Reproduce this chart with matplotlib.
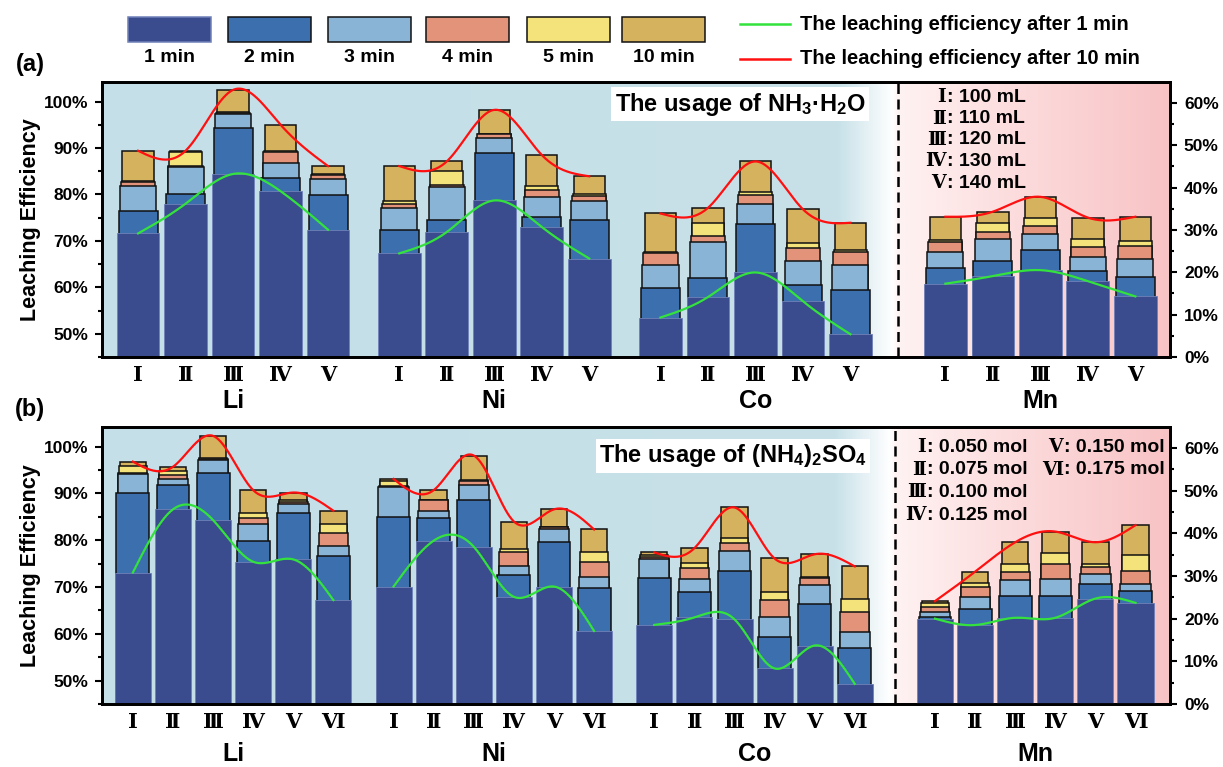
import numpy as np
import matplotlib
matplotlib.use('Agg')
import matplotlib.pyplot as plt
from matplotlib.patches import Rectangle
from matplotlib.lines import Line2D
from matplotlib.ticker import MultipleLocator, FixedLocator
import matplotlib.colors as mcolors

plt.rcParams['font.family'] = ['Liberation Sans', 'DejaVu Sans']
plt.rcParams['font.weight'] = 'bold'
plt.rcParams['mathtext.fontset'] = 'custom'
plt.rcParams['mathtext.rm'] = 'Liberation Sans:bold'
plt.rcParams['mathtext.it'] = 'Liberation Sans:bold'
plt.rcParams['mathtext.bf'] = 'Liberation Sans:bold'

# ---- data (rows: 1, 2, 3, 4, 5, 10 min; columns: conditions) ----
times = ['1 min', '2 min', '3 min', '4 min', '5 min', '10 min']
elements = ['Li', 'Ni', 'Co', 'Mn']
roman_a = ['Ⅰ', 'Ⅱ', 'Ⅲ', 'Ⅳ', 'Ⅴ']
roman_b = ['Ⅰ', 'Ⅱ', 'Ⅲ', 'Ⅳ', 'Ⅴ', 'Ⅵ']

# (a) NH3.H2O usage
li_a = [[71.6, 78.0, 84.4, 80.7, 72.4],
        [76.4, 80.0, 94.4, 83.6, 79.8],
        [81.9, 85.9, 97.3, 86.8, 83.4],
        [82.6, 86.2, 97.6, 89.2, 84.1],
        [82.9, 89.1, 97.8, 89.3, 84.3],
        [89.4, 89.4, 102.5, 95.0, 86.1]]
ni_a = [[67.3, 71.9, 78.7, 73.0, 66.2],
        [72.4, 74.4, 88.9, 75.1, 74.6],
        [77.1, 81.6, 92.1, 79.4, 78.6],
        [78.0, 82.1, 93.0, 81.0, 79.7],
        [78.6, 85.1, 93.1, 81.9, 80.1],
        [86.1, 87.1, 98.2, 88.5, 83.9]]
co_a = [[53.5, 57.9, 63.2, 57.0, 49.9],
        [59.8, 62.1, 73.6, 60.4, 59.4],
        [64.9, 69.8, 78.0, 65.7, 64.8],
        [67.4, 71.0, 79.8, 68.4, 67.6],
        [67.5, 73.9, 80.5, 69.6, 68.0],
        [75.9, 77.1, 87.1, 76.8, 73.9]]
mn_a = [[17.3, 19.1, 20.5, 17.9, 14.3],
        [21.0, 22.6, 25.2, 20.3, 18.9],
        [24.8, 27.8, 29.1, 23.6, 23.2],
        [27.2, 29.4, 30.9, 26.0, 26.2],
        [27.7, 31.7, 32.9, 27.8, 27.3],
        [33.1, 34.3, 37.8, 32.9, 33.1]]

# (b) (NH4)2SO4 usage
li_b = [[73.1, 86.6, 84.3, 75.4, 75.9, 67.2],
        [90.0, 91.8, 94.3, 79.9, 85.8, 76.6],
        [94.2, 93.0, 97.2, 83.5, 87.7, 78.8],
        [94.3, 93.9, 97.4, 84.8, 88.2, 81.6],
        [95.9, 94.9, 97.6, 85.8, 88.6, 83.4],
        [96.8, 95.7, 102.3, 90.7, 90.2, 86.3]]
ni_b = [[70.1, 79.9, 78.6, 67.9, 70.1, 60.6],
        [85.0, 84.8, 88.6, 72.6, 79.6, 69.7],
        [91.3, 86.3, 91.8, 74.4, 82.5, 72.2],
        [91.5, 88.5, 92.7, 77.4, 82.8, 75.4],
        [92.7, 88.7, 92.9, 78.1, 82.9, 77.4],
        [93.1, 90.7, 98.1, 84.0, 86.6, 82.3]]
co_b = [[61.9, 63.5, 63.1, 52.6, 57.5, 49.3],
        [72.0, 69.0, 73.4, 59.4, 66.4, 56.9],
        [76.0, 71.7, 77.8, 63.5, 70.4, 60.3],
        [76.4, 74.0, 79.5, 67.2, 71.9, 64.6],
        [76.9, 75.1, 80.4, 68.9, 72.1, 67.5],
        [77.4, 78.3, 87.0, 76.1, 77.0, 74.4]]
mn_b = [[20.0, 18.5, 20.2, 20.2, 24.7, 23.7],
        [20.3, 22.3, 25.3, 25.3, 28.0, 26.5],
        [21.5, 25.1, 29.1, 29.4, 30.4, 28.0],
        [22.8, 27.4, 31.0, 32.8, 32.1, 31.2],
        [23.6, 28.4, 32.9, 35.3, 32.9, 34.9],
        [24.1, 31.0, 37.9, 40.4, 37.9, 41.9]]

notes_a = [('Ⅰ', '100 mL'), ('Ⅱ', '110 mL'), ('Ⅲ', '120 mL'),
           ('Ⅳ', '130 mL'), ('Ⅴ', '140 mL')]
notes_b = [('Ⅰ', '0.050 mol'), ('Ⅱ', '0.075 mol'), ('Ⅲ', '0.100 mol'),
           ('Ⅳ', '0.125 mol'), ('Ⅴ', '0.150 mol'), ('Ⅵ', '0.175 mol')]

colors = ['#3a4b8e', '#3c6fae', '#8ab4d6', '#e2937a', '#f4e27a', '#d5b25e']
widths = [0.90, 0.82, 0.76, 0.72, 0.69, 0.66]
roman_font = ['DejaVu Serif', 'Noto Sans CJK JP']

W, H = 1223, 767


def px(x, y):
    return x / W, 1 - y / H


def smooth(x, y, n=200):
    # natural cubic spline through the points, for the curved guide lines
    x = np.asarray(x, float)
    y = np.asarray(y, float)
    k = len(x)
    h = np.diff(x)
    A = np.zeros((k, k))
    r = np.zeros(k)
    A[0, 0] = A[-1, -1] = 1
    for i in range(1, k - 1):
        A[i, i - 1] = h[i - 1]
        A[i, i] = 2 * (h[i - 1] + h[i])
        A[i, i + 1] = h[i]
        r[i] = 6 * ((y[i + 1] - y[i]) / h[i] - (y[i] - y[i - 1]) / h[i - 1])
    M = np.linalg.solve(A, r)
    xs = np.linspace(x[0], x[-1], n)
    idx = np.clip(np.searchsorted(x, xs) - 1, 0, k - 2)
    x0, x1 = x[idx], x[idx + 1]
    hh = x1 - x0
    t0, t1 = xs - x0, x1 - xs
    ys = ((M[idx] * t1 ** 3 + M[idx + 1] * t0 ** 3) / (6 * hh)
          + (y[idx] / hh - M[idx] * hh / 6) * t1
          + (y[idx + 1] / hh - M[idx + 1] * hh / 6) * t0)
    return xs, ys


def draw_group(axis, pos, vals):
    vals = np.asarray(vals)
    for t in range(5, -1, -1):
        if t == 0:
            axis.bar(pos, vals[t], widths[t], color=colors[t], edgecolor='#6f80b8',
                     linewidth=0.6, zorder=2)
        else:
            axis.bar(pos, vals[t], widths[t], color=colors[t], edgecolor='#111111',
                     linewidth=1.1, zorder=2)
    xs, ys = smooth(pos, vals[0])
    axis.plot(xs, ys, color='#33e23c', lw=1.6, zorder=4)
    xs, ys = smooth(pos, vals[5])
    axis.plot(xs, ys, color='#ff1010', lw=1.6, zorder=4)


def background(axis, xlim, ylim, split):
    stops = [(0.0, '#c4dfe8'), (split - 0.055, '#c8e1e9'), (split - 0.004, '#ffffff'),
             (split + 0.002, '#fff2f2'), (split + 0.12, '#fcdadb'), (1.0, '#f8c3c5')]
    fr = np.linspace(0, 1, 600)
    rgb = np.zeros((1, 600, 3))
    pts = [s[0] for s in stops]
    cols = [mcolors.to_rgb(s[1]) for s in stops]
    for c in range(3):
        rgb[0, :, c] = np.interp(fr, pts, [cc[c] for cc in cols])
    axis.imshow(rgb, extent=(xlim[0], xlim[1], ylim[0], ylim[1]), aspect='auto', zorder=0)


def make_panel(rect, data, roman, starts, dash_x, xlim, label_y):
    ax = fig.add_axes(rect)
    ax2 = ax.twinx()
    ylim = (45, 104.2)
    background(ax, xlim, ylim, (dash_x - xlim[0]) / (xlim[1] - xlim[0]))
    n = len(roman)
    ticks, labels = [], []
    for g, vals in enumerate(data):
        pos = starts[g] + np.arange(n)
        target = ax2 if g == 3 else ax
        draw_group(target, pos, vals)
        ticks += list(pos)
        labels += roman
        ax.text(pos.mean(), label_y, elements[g], transform=ax.get_xaxis_transform(),
                ha='center', va='center', fontsize=18, fontweight='bold')
    ax.axvline(dash_x, color='black', lw=1.8, dashes=(4, 2.2), zorder=3)
    ax.set_xlim(*xlim)
    ax.set_ylim(*ylim)
    ax2.set_ylim(0, 64.9)
    ax.set_xticks(ticks)
    ax.set_xticklabels(labels, fontfamily=roman_font, fontweight='bold', fontsize=15)
    ax.tick_params(axis='x', length=0, pad=6)
    ax.yaxis.set_major_locator(FixedLocator([50, 60, 70, 80, 90, 100]))
    ax.yaxis.set_minor_locator(MultipleLocator(5))
    ax.set_yticklabels(['%d%%' % v for v in [50, 60, 70, 80, 90, 100]])
    ax2.yaxis.set_major_locator(FixedLocator([0, 10, 20, 30, 40, 50, 60]))
    ax2.yaxis.set_minor_locator(MultipleLocator(5))
    ax2.set_yticklabels(['%d%%' % v for v in [0, 10, 20, 30, 40, 50, 60]])
    for a in (ax, ax2):
        a.tick_params(axis='y', which='major', length=5, width=1.5, labelsize=12.5, pad=5)
        a.tick_params(axis='y', which='minor', length=3, width=1.5)
        for s in a.spines.values():
            s.set_linewidth(2)
    ax.set_ylabel('Leaching Efficiency', fontsize=15.5, fontweight='bold', labelpad=2)
    return ax, ax2


fig = plt.figure(figsize=(W / 100, H / 100), dpi=100)

rect_a = [102 / W, 1 - 357 / H, 1068 / W, 275 / H]
rect_b = [102 / W, 1 - 704 / H, 1068 / W, 277 / H]

ax_a, ax_a2 = make_panel(rect_a, [li_a, ni_a, co_a, mn_a], roman_a,
                         [0, 5.5, 11, 17], 16, (-0.76, 21.73), -0.16)
ax_b, ax_b2 = make_panel(rect_b, [li_b, ni_b, co_b, mn_b], roman_b,
                         [0, 6.5, 13, 20], 19, (-0.77, 25.86), -0.18)

# boxed titles inside the panels
fig.text(*px(740, 104), r'The usage of NH$_3$·H$_2$O', ha='center', va='center',
         fontsize=17, fontweight='bold', zorder=10,
         bbox=dict(facecolor='white', edgecolor='none', pad=2.5))
fig.text(*px(733, 456), r'The usage of (NH$_4$)$_2$SO$_4$', ha='center', va='center',
         fontsize=17, fontweight='bold', zorder=10,
         bbox=dict(facecolor='white', edgecolor='none', pad=2.5))

# condition notes
for i, (r, t) in enumerate(notes_a):
    y = 97 + i * 21.5
    fig.text(*px(946, y), r, ha='right', va='center', fontsize=13.5,
             fontfamily=roman_font, fontweight='bold')
    fig.text(*px(947, y), ': ' + t, ha='left', va='center', fontsize=14, fontweight='bold')
for i, (r, t) in enumerate(notes_b):
    if i < 4:
        x0, x1, y = 926, 927, 447 + i * 22.7
    else:
        x0, x1, y = 1063, 1064, 447 + (i - 4) * 22.7
    fig.text(*px(x0, y), r, ha='right', va='center', fontsize=13.5,
             fontfamily=roman_font, fontweight='bold')
    fig.text(*px(x1, y), ': ' + t, ha='left', va='center', fontsize=14, fontweight='bold')

# panel letters
fig.text(*px(30, 65), '(a)', ha='center', va='center', fontsize=17, fontweight='bold')
fig.text(*px(30, 410), '(b)', ha='center', va='center', fontsize=17, fontweight='bold')

# legend on top
leg_x = [128, 228, 328, 426, 527, 622]
for i, t in enumerate(times):
    x0, y0 = px(leg_x[i], 42)
    ec = '#6f80b8' if i == 0 else '#111111'
    fig.add_artist(Rectangle((x0, y0), 83 / W, 25 / H, transform=fig.transFigure,
                             facecolor=colors[i], edgecolor=ec, lw=1.1))
    fig.text(*px(leg_x[i] + 41.5, 58), t, ha='center', va='center', fontsize=14,
             fontweight='bold')
for y, c, t in [(24, '#33e23c', 'The leaching efficiency after 1 min'),
                (59, '#ff1010', 'The leaching efficiency after 10 min')]:
    xa, ya = px(740, y)
    xb, _ = px(790, y)
    fig.add_artist(Line2D([xa, xb], [ya, ya], transform=fig.transFigure, color=c, lw=1.8))
    fig.text(*px(800, y), t, ha='left', va='center', fontsize=14.5, fontweight='bold')

fig.savefig('out.png', dpi=100)
